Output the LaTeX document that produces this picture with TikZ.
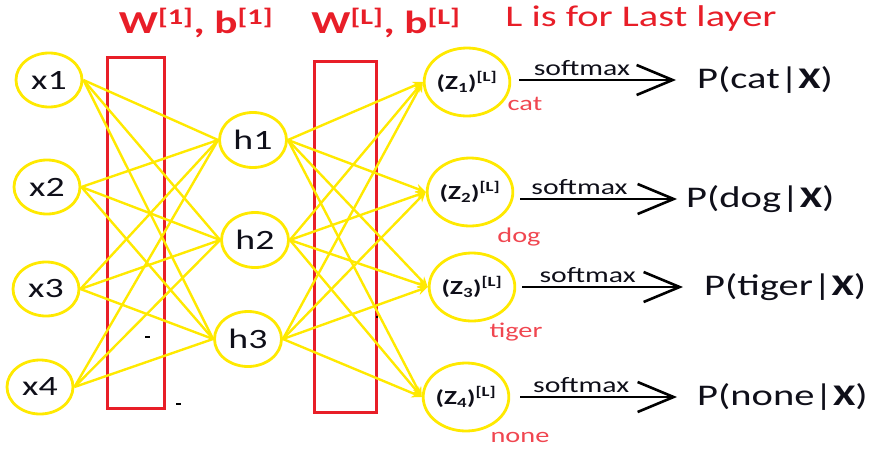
\documentclass[tikz,border=0pt]{standalone}
\usepackage{fontspec}
\setmainfont[FakeStretch=1.35]{Carlito}
\usetikzlibrary{shapes.geometric,arrows.meta}
\definecolor{nnyellow}{RGB}{255,233,0}
\definecolor{nnred}{RGB}{232,30,40}
\definecolor{lblred}{RGB}{240,70,80}
\definecolor{txt}{RGB}{15,15,25}
\begin{document}
\begin{tikzpicture}[x=1pt,y=-1pt,
  inp/.style={ellipse,draw=nnyellow,line width=2.8pt,minimum width=66pt,minimum height=54pt,inner sep=0pt,text=txt,font=\fontsize{28}{28}\selectfont},
  hid/.style={inp,minimum width=67pt,minimum height=55pt},
  outn/.style={ellipse,draw=nnyellow,line width=2.8pt,minimum width=80pt,minimum height=68pt,inner sep=0pt,text=txt,font=\bfseries\fontsize{20}{20}\selectfont},
  wire/.style={draw=nnyellow,line width=2.4pt},
  owire/.style={wire,-{Stealth[length=10pt,width=9pt]}},
  wbox/.style={draw=nnred,line width=3pt},
  title/.style={text=nnred,font=\bfseries\fontsize{32}{32}\selectfont,inner sep=0pt},
  cls/.style={text=lblred,font=\fontsize{21}{21}\selectfont,inner sep=0pt},
  prob/.style={anchor=west,inner sep=0pt,text=txt,font=\fontsize{30}{30}\selectfont},
  smax/.style={draw=black,line width=2.6pt,-{Straight Barb[length=36pt,width=30pt,line width=2.6pt]}},
  smlab/.style={above=3pt,pos=0.38,inner sep=0pt,font=\fontsize{22}{22}\selectfont,text=txt}
]
\useasboundingbox (0,0) rectangle (877,450);

% weight boxes
\draw[wbox] (107,57) rectangle (164,408);
\draw[wbox] (314,61) rectangle (376,412);

% titles
\node[title] (t1) at (196,23) {W\textsuperscript{[1]}, b\textsuperscript{[1]}};
\node[title] (t2) at (386,23) {W\textsuperscript{[L]}, b\textsuperscript{[L]}};
\node[title,font=\fontsize{30}{30}\selectfont] (t3) at (641,19) {L is for Last layer};

% inputs
\node[inp] (x1) at (49,80) {x1};
\node[inp] (x2) at (47,187) {x2};
\node[inp] (x3) at (46,289) {x3};
\node[inp] (x4) at (40,387) {x4};

% hidden
\node[hid] (h1) at (253,140) {h1};
\node[hid] (h2) at (255,240) {h2};
\node[hid] (h3) at (248,339) {h3};

% outputs
\node[outn] (z1) at (467,82) {(Z\textsubscript{1})\textsuperscript{[L]}};
\node[outn] (z2) at (470,192) {(Z\textsubscript{2})\textsuperscript{[L]}};
\node[outn] (z3) at (472,287) {(Z\textsubscript{3})\textsuperscript{[L]}};
\node[outn] (z4) at (466,397) {(Z\textsubscript{4})\textsuperscript{[L]}};

% class labels
\node[cls] (c1) at (525,104) {cat};
\node[cls] (c2) at (519,237) {dog};
\node[cls] (c3) at (516,332) {tiger};
\node[cls] (c4) at (520,437) {none};

% input -> hidden
\foreach \i in {1,2,3,4}{
  \foreach \j in {1,2,3}{
    \draw[wire] (x\i.east) -- (h\j.west);
  }
}
% hidden -> output
\foreach \j in {1,2,3}{
  \foreach \k in {1,2,3,4}{
    \draw[owire] (h\j.east) -- (z\k.west);
  }
}

% probabilities
\node[prob] (p1) at (697,80) {P(cat|\textbf{X})};
\node[prob] (p2) at (686,199) {P(dog|\textbf{X})};
\node[prob] (p3) at (704,287) {P(tiger|\textbf{X})};
\node[prob] (p4) at (697,397) {P(none|\textbf{X})};

\draw[smax,shorten <=8pt,shorten >=21pt] (p1.west -| z1.east) -- (p1.west) node[smlab] {softmax};
\draw[smax,shorten <=6pt,shorten >=9pt] (p2.west -| z2.east) -- (p2.west) node[smlab] {softmax};
\draw[smax,shorten <=6pt,shorten >=21pt] (p3.west -| z3.east) -- (p3.west) node[smlab] {softmax};
\draw[smax,shorten <=10pt,shorten >=20pt] (p4.west -| z4.east) -- (p4.west) node[smlab] {softmax};

% stray marks
\fill[black] (145,336) rectangle (150,338);
\fill[black] (176,403) rectangle (181,405);
\fill[black] (376,316) rectangle (378,318);
\end{tikzpicture}
\end{document}
